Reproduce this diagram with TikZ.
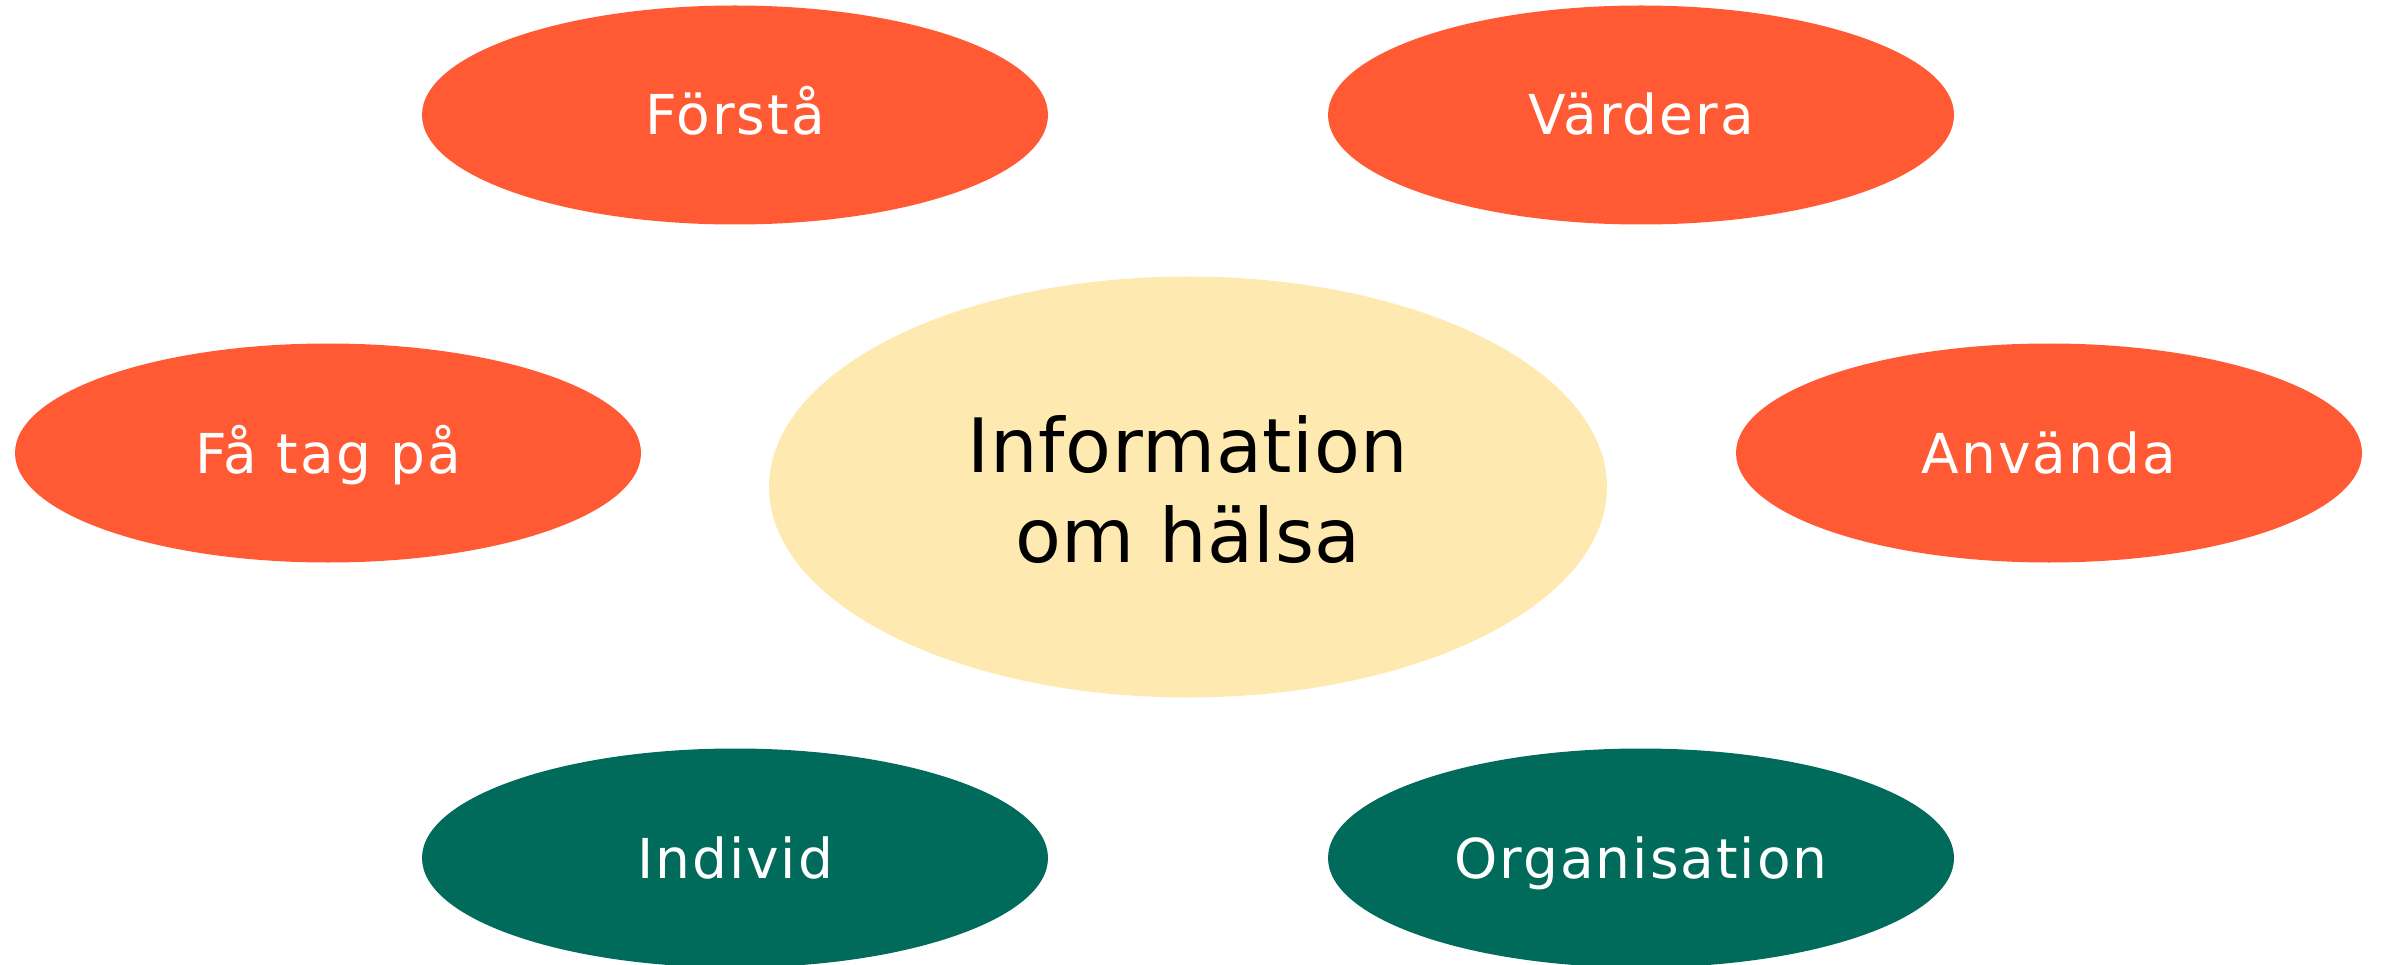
\documentclass[tikz,border=0pt]{standalone}
\usepackage{fontspec}
\setmainfont{DejaVu Sans}
\newfontfamily\widefont[LetterSpace=3.6]{DejaVu Sans}
\newfontfamily\corefont[LetterSpace=0.8]{DejaVu Sans}
\usetikzlibrary{shapes.geometric}
\definecolor{orng}{RGB}{255,90,51}
\definecolor{yel}{RGB}{254,234,177}
\definecolor{grn}{RGB}{0,107,91}
\begin{document}
\begin{tikzpicture}[x=1pt,y=-1pt,
  blob/.style={ellipse, draw=none, minimum width=626pt, minimum height=219pt, inner sep=0pt,
    text=white, font=\widefont\fontsize{55pt}{66pt}\selectfont, text height=40pt, text depth=0pt},
  act/.style={blob, fill=orng},
  lvl/.style={blob, fill=grn},
  core/.style={ellipse, draw=none, fill=yel, minimum width=838pt, minimum height=421pt, inner sep=0pt},
  coretext/.style={font=\corefont\fontsize{75pt}{90pt}\selectfont, text=black, anchor=base}]
\useasboundingbox (0,0) rectangle (2382,965);
\node[act] (forsta) at (735,115) {Förstå};
\node[act] (vardera) at (1641,115) {Värdera};
\node[act] (fa) at (328,453) {Få tag på};
\node[act] (anvanda) at (2049,453) {Använda};
\node[core] (info) at (1188,487) {};
\node[coretext] (l1) at (1188,472) {Information};
\node[coretext] (l2) at (1188,562) {om hälsa};
\node[lvl] (individ) at (735,858) {Individ};
\node[lvl] (org) at (1641,858) {Organisation};
\end{tikzpicture}
\end{document}
